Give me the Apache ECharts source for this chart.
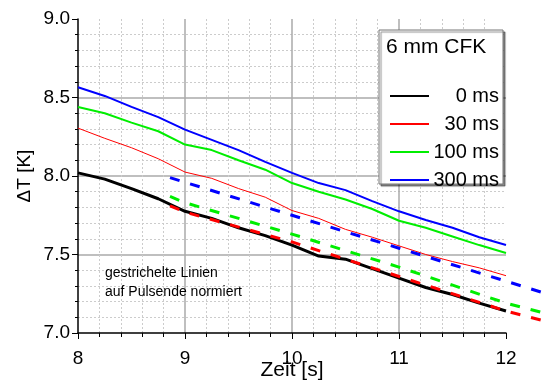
<!DOCTYPE html>
<html>
<head>
<meta charset="utf-8">
<script src="https://cdn.jsdelivr.net/npm/echarts@6/dist/echarts.min.js"></script>
<style>html,body{margin:0;padding:0;background:#fff}#main{width:544px;height:383px}</style>
</head>
<body>
<div id="main"></div>
<script>
// Zeit [s]
var times = [8, 8.25, 8.5, 8.75, 9, 9.25, 9.5, 9.75, 10, 10.25, 10.5, 10.75, 11, 11.25, 11.5, 11.75, 12];
// Delta T [K], measured
var dt0ms   = [8.02, 7.98, 7.92, 7.855, 7.775, 7.73, 7.67, 7.62, 7.56, 7.49, 7.47, 7.41, 7.35, 7.29, 7.245, 7.19, 7.14];
var dt30ms  = [8.305, 8.24, 8.18, 8.11, 8.025, 7.985, 7.92, 7.865, 7.78, 7.73, 7.66, 7.61, 7.555, 7.50, 7.455, 7.415, 7.365];
var dt100ms = [8.44, 8.40, 8.34, 8.285, 8.20, 8.165, 8.10, 8.04, 7.955, 7.90, 7.85, 7.79, 7.715, 7.67, 7.615, 7.56, 7.51];
var dt300ms = [8.565, 8.51, 8.44, 8.375, 8.295, 8.23, 8.165, 8.09, 8.02, 7.955, 7.91, 7.84, 7.775, 7.72, 7.67, 7.61, 7.56];
// normalised to pulse end (dashed), run past the right edge of the plot
var normTimes  = [8.86, 9, 10, 11, 12, 12.4];
var norm30ms   = [7.81, 7.77, 7.58, 7.36, 7.14, 7.07];
var norm100ms  = [7.87, 7.83, 7.63, 7.42, 7.19, 7.12];
var norm300ms  = [7.99, 7.96, 7.75, 7.54, 7.33, 7.245];

var names = ['0 ms', '30 ms', '100 ms', '300 ms'];
var colors = ['#000000', '#ff0000', '#00ee00', '#0000ff'];
var widths = [3, 1, 2, 2];

var font = 'Liberation Sans, Arial, sans-serif';

function pairs(xs, ys) {
    return xs.map(function (x, i) { return [x, ys[i]]; });
}

var chartDom = document.getElementById('main');
var myChart = echarts.init(chartDom);
var option;

var solid = [dt0ms, dt30ms, dt100ms, dt300ms].map(function (ys, i) {
    return {
        name: names[i],
        type: 'line',
        symbol: 'none',
        silent: true,
        lineStyle: { color: colors[i], width: widths[i] },
        itemStyle: { color: colors[i] },
        data: pairs(times, ys)
    };
});

// dashed lines live on a second, hidden grid with the same scale but wider
var dashed = [[norm30ms, 1], [norm100ms, 2], [norm300ms, 3]].map(function (d) {
    return {
        name: names[d[1]] + ' normiert',
        type: 'line',
        xAxisIndex: 1,
        yAxisIndex: 1,
        symbol: 'none',
        silent: true,
        z: 3,
        lineStyle: { color: colors[d[1]], width: 3, type: [10, 11] },
        data: pairs(normTimes, d[0])
    };
});

option = {
    animation: false,
    textStyle: { fontFamily: font },
    grid: [
        { left: 78, right: 38, top: 19, bottom: 50, outerBoundsMode: 'none', containLabel: false },
        { left: 78, width: 470.8, top: 19, bottom: 50, outerBoundsMode: 'none', containLabel: false }
    ],
    xAxis: [{
        type: 'value',
        min: 8,
        max: 12,
        interval: 1,
        name: 'Zeit [s]',
        nameLocation: 'middle',
        nameGap: 27,
        nameMoveOverlap: false,
        nameTextStyle: { fontSize: 21, color: '#000', fontFamily: font },
        axisLine: { lineStyle: { color: '#000', width: 1.5 } },
        axisTick: { length: 6, lineStyle: { color: '#000' } },
        minorTick: { show: true, splitNumber: 5, length: 4, lineStyle: { color: '#000' } },
        axisLabel: { fontSize: 19, color: '#000', margin: 16, fontFamily: font },
        splitLine: { show: true, showMinLine: false, showMaxLine: false, lineStyle: { color: '#aaaaaa', width: 1.5 } },
        minorSplitLine: { show: true, lineStyle: { color: '#cccccc', type: [2, 2] } }
    }, {
        type: 'value',
        gridIndex: 1,
        min: 8,
        max: 12.4,
        show: false
    }],
    yAxis: [{
        type: 'value',
        min: 7,
        max: 9,
        interval: 0.5,
        name: 'ΔT [K]',
        nameLocation: 'middle',
        nameGap: 44,
        nameMoveOverlap: false,
        nameTextStyle: { fontSize: 19, color: '#000', fontFamily: font },
        axisLine: { show: true, lineStyle: { color: '#000', width: 1.5 } },
        axisTick: { show: true, length: 6, lineStyle: { color: '#000' } },
        minorTick: { show: true, splitNumber: 5, length: 3, lineStyle: { color: '#000' } },
        axisLabel: {
            fontSize: 19, color: '#000', margin: 8, fontFamily: font,
            formatter: function (v) { return v.toFixed(1); }
        },
        splitLine: { show: true, showMinLine: false, showMaxLine: false, lineStyle: { color: '#aaaaaa', width: 1.5 } },
        minorSplitLine: { show: true, lineStyle: { color: '#cccccc', type: [2, 2] } }
    }, {
        type: 'value',
        gridIndex: 1,
        min: 7,
        max: 9,
        show: false
    }],
    legend: {
        data: names,
        orient: 'vertical',
        left: 385,
        top: 81,
        z: 20,
        icon: 'rect',
        itemWidth: 39,
        itemHeight: 2,
        itemGap: 8,
        itemTextGap: 5,
        selectedMode: false,
        formatter: function (name) { return '{a|' + name + '}'; },
        textStyle: {
            fontFamily: font,
            rich: { a: { width: 65, align: 'right', fontSize: 20, lineHeight: 18, color: '#000', fontFamily: font } }
        }
    },
    graphic: [
        {
            type: 'rect',
            z: 10,
            shape: { x: 379, y: 30, width: 124, height: 154 },
            style: { fill: '#fff', stroke: '#777', lineWidth: 1, shadowColor: 'rgba(0,0,0,0.45)', shadowOffsetX: 2, shadowOffsetY: 2, shadowBlur: 1 }
        },
        {
            type: 'text',
            z: 11,
            left: 386,
            top: 37,
            style: { text: '6 mm CFK', fontSize: 21, fill: '#000', fontFamily: font }
        },
        {
            type: 'text',
            z: 11,
            left: 105,
            top: 264,
            style: { text: 'gestrichelte Linien\nauf Pulsende normiert', fontSize: 14, lineHeight: 19, fill: '#000', fontFamily: font }
        }
    ],
    series: solid.concat(dashed)
};

option && myChart.setOption(option);
</script>
</body>
</html>
